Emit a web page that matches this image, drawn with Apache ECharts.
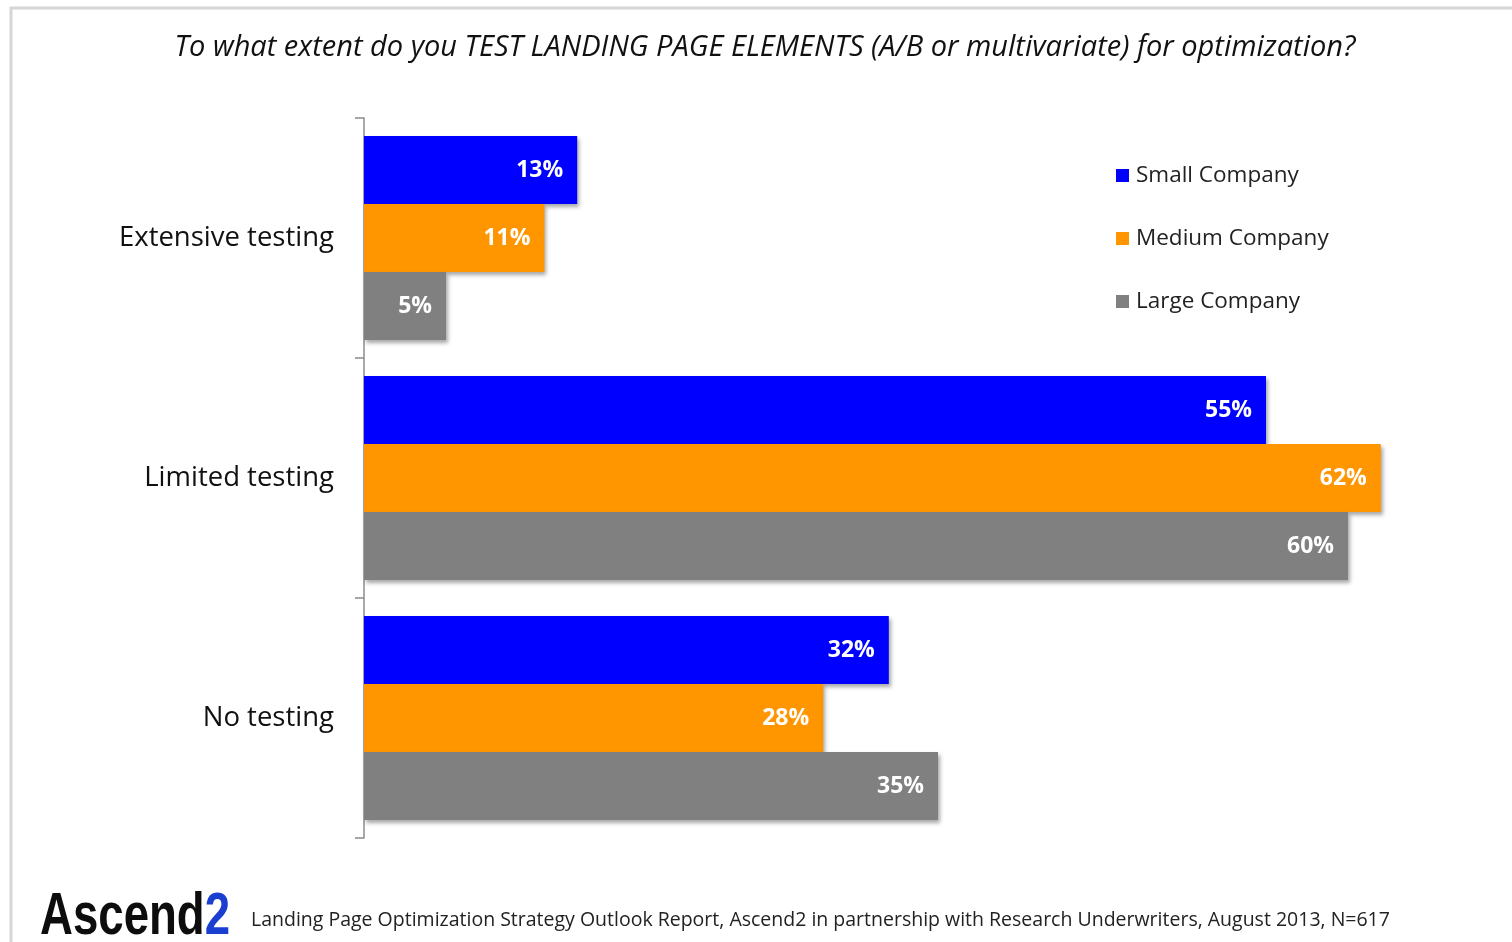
<!DOCTYPE html>
<html><head><meta charset="utf-8">
<script src="https://cdn.jsdelivr.net/npm/echarts@6/dist/echarts.min.js"></script>
<style>html,body{margin:0;padding:0;background:#fff}#c{width:1512px;height:942px}</style>
</head><body><div id="c"></div>
<script>
const titleText = "To what extent do you TEST LANDING PAGE ELEMENTS (A/B or multivariate) for optimization?";
const categories = ["Extensive testing", "Limited testing", "No testing"];
const seriesNames = ["Small Company", "Medium Company", "Large Company"];
const smallCompany = [13, 55, 32];
const mediumCompany = [11, 62, 28];
const largeCompany = [5, 60, 35];
const footerText = "Landing Page Optimization Strategy Outlook Report, Ascend2 in partnership with Research Underwriters, August 2013, N=617";

const colors = ["#0000FF", "#FF9600", "#808080"];
const FONT = "Open Sans";
const values = [smallCompany, mediumCompany, largeCompany];

const chart = echarts.init(document.getElementById('c'), null, {renderer: 'canvas'});
chart.setOption({
  animation: false,
  backgroundColor: '#fff',
  title: {
    text: titleText, left: 765, top: 33, textAlign: 'center', padding: 0,
    textStyle: {fontFamily: FONT, fontStyle: 'italic', fontWeight: 'normal', fontSize: 29, color: '#111'}
  },
  legend: {
    orient: 'vertical', left: 1116, top: 160, padding: 0,
    itemWidth: 13, itemHeight: 13, itemGap: 32,
    icon: 'rect',
    textStyle: {fontFamily: FONT, fontSize: 22.5, color: '#222', padding: [0,0,0,2], lineHeight: 31},
    data: seriesNames
  },
  grid: {left: 364, top: 118, bottom: 104, width: 1148, containLabel: false},
  xAxis: {type: 'value', min: 0, max: 70, show: false},
  yAxis: {
    type: 'category', data: categories, inverse: true,
    axisLine: {show: true, lineStyle: {color: '#8c8c8c', width: 1.5}},
    axisTick: {show: true, length: 9, alignWithLabel: false, lineStyle: {color: '#8c8c8c', width: 1.5}},
    axisLabel: {fontFamily: FONT, fontSize: 27.5, color: '#111', margin: 30}
  },
  series: values.map((v, i) => ({
    name: seriesNames[i], type: 'bar', data: v,
    barGap: '0%', barCategoryGap: '15%',
    itemStyle: {color: colors[i], shadowBlur: 4, shadowOffsetX: 2, shadowOffsetY: 3, shadowColor: 'rgba(0,0,0,0.35)'},
    label: {show: true, position: 'insideRight', distance: 14, formatter: '{c}%',
      fontFamily: FONT, fontWeight: 'bold', fontSize: 23, color: '#fff'}
  })),
  graphic: [
    {type: 'polyline', shape: {points: [[11, 942], [11, 8], [1512, 8]]}, style: {stroke: '#d6d6d6', lineWidth: 3, fill: null}},
    {type: 'text', x: 40, y: 887, scaleX: 0.76, style: {
      text: '{a|Ascend}{b|2}', rich: {
        a: {fontFamily: 'Liberation Sans', fontSize: 60, fontWeight: 'bold', fill: '#0d0d0d'},
        b: {fontFamily: 'Liberation Sans', fontSize: 60, fontWeight: 'bold', fill: '#1a3fd0'}
      }}},
    {type: 'text', left: 251, top: 910, style: {text: footerText, fontFamily: FONT, fontSize: 19.5, fill: '#222'}}
  ]
});
</script></body></html>
